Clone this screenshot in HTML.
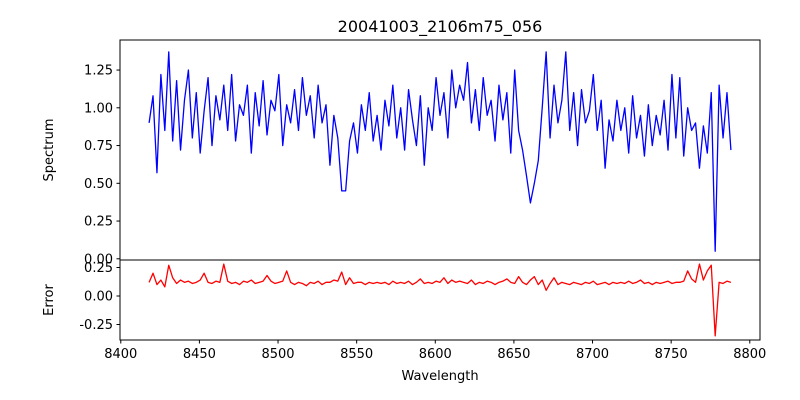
<!DOCTYPE html>
<html><head><meta charset="utf-8"><style>body{margin:0;background:#fff}svg{display:block;font-family:"DejaVu Sans","Liberation Sans",sans-serif}</style></head>
<body>
<svg id="chart" width="800" height="400" viewBox="0 0 800 400">
<rect width="800" height="400" fill="#fff"/>
<text x="440" y="32" font-size="16" text-anchor="middle">20041003_2106m75_056</text>
<text x="440" y="380" font-size="13" text-anchor="middle">Wavelength</text>
<text transform="translate(53,150) rotate(-90)" font-size="13" text-anchor="middle">Spectrum</text>
<text transform="translate(53,300) rotate(-90)" font-size="13" text-anchor="middle">Error</text>
<g id="g"></g>
</svg>
<script>
const wlStart = 8418, wlStep = 2.5;
const spectrum = [0.90,1.08,0.57,1.22,0.85,1.37,0.78,1.18,0.72,1.05,
1.25,0.80,1.10,0.70,0.98,1.20,0.75,1.08,0.92,1.15,
0.85,1.22,0.78,1.02,0.95,1.15,0.70,1.10,0.88,1.18,
0.82,1.05,0.98,1.22,0.75,1.02,0.90,1.12,0.85,1.20,
0.95,1.08,0.80,1.15,0.90,1.02,0.62,0.95,0.80,0.45,
0.45,0.78,0.90,0.70,1.02,0.85,1.10,0.78,0.95,0.72,
1.05,0.88,1.15,0.80,1.00,0.72,1.12,0.92,0.75,1.08,
0.62,1.00,0.85,1.20,0.95,1.10,0.80,1.25,1.00,1.15,
1.05,1.30,0.90,1.12,0.85,1.20,0.95,1.05,0.78,1.15,
0.92,1.10,0.70,1.25,0.85,0.72,0.55,0.37,0.50,0.65,
1.00,1.37,0.80,1.15,0.90,1.05,1.37,0.85,1.10,0.75,
1.12,0.90,0.98,1.22,0.85,1.05,0.60,0.92,0.78,1.05,
0.85,1.00,0.70,1.08,0.80,0.95,0.68,1.02,0.75,0.95,
0.82,1.05,0.72,1.22,0.80,1.20,0.68,1.00,0.85,0.90,
0.60,0.88,0.70,1.10,0.05,1.15,0.80,1.10,0.72];
const errors = [0.12,0.20,0.10,0.14,0.08,0.27,0.16,0.11,0.14,0.12,
0.13,0.11,0.12,0.14,0.20,0.12,0.11,0.13,0.12,0.28,
0.13,0.11,0.12,0.10,0.13,0.12,0.14,0.11,0.12,0.13,
0.18,0.13,0.11,0.12,0.13,0.22,0.12,0.10,0.12,0.11,
0.09,0.12,0.11,0.13,0.10,0.12,0.12,0.14,0.13,0.21,
0.10,0.16,0.11,0.12,0.12,0.10,0.12,0.11,0.12,0.11,
0.12,0.10,0.13,0.11,0.12,0.11,0.13,0.10,0.12,0.15,
0.11,0.12,0.11,0.13,0.12,0.16,0.11,0.14,0.12,0.13,
0.12,0.11,0.14,0.10,0.12,0.11,0.13,0.12,0.10,0.12,
0.13,0.15,0.12,0.11,0.17,0.12,0.10,0.14,0.17,0.10,
0.14,0.05,0.11,0.16,0.10,0.12,0.11,0.10,0.12,0.11,
0.10,0.12,0.11,0.13,0.10,0.11,0.12,0.10,0.12,0.11,
0.12,0.11,0.13,0.11,0.12,0.14,0.11,0.12,0.10,0.12,
0.11,0.12,0.13,0.11,0.12,0.12,0.13,0.22,0.15,0.12,
0.28,0.14,0.22,0.27,-0.35,0.12,0.11,0.13,0.12];
const xTicks = [8400,8450,8500,8550,8600,8650,8700,8750,8800];
const specTicks = [0.00,0.25,0.50,0.75,1.00,1.25];
const errTicks = [-0.25,0.00,0.25];

const NS="http://www.w3.org/2000/svg", g=document.getElementById('g');
const L=120,R=760;
const xs=w=>L+(w-8399.5)*(R-L)/407;
const ys=v=>258.8-v*151;
const ye=v=>296-v*114;
function mk(t,a,p){const e=document.createElementNS(NS,t);for(const k in a)e.setAttribute(k,a[k]);(p||g).appendChild(e);return e;}
function path(arr,fy,col,name){
  let d=arr.map((v,i)=>(i?'L':'M')+xs(wlStart+i*wlStep).toFixed(2)+','+fy(v).toFixed(2)).join('');
  const p=mk('path',{d:d,fill:'none',stroke:col,'stroke-width':1.3,'stroke-linejoin':'round'});
  
  
}
path(spectrum,ys,'#0000ff','spectrum-line');
path(errors,ye,'#ff0000','error-line');
const f1=mk('rect',{x:L,y:40,width:R-L,height:220,fill:'none',stroke:'#000','stroke-width':1});


const f2=mk('rect',{x:L,y:260,width:R-L,height:80,fill:'none',stroke:'#000','stroke-width':1});


xTicks.forEach(t=>{const x=xs(t);
  mk('line',{x1:x,x2:x,y1:340,y2:343.5,stroke:'#000'});
  const tx=mk('text',{x:x,y:358,'font-size':13,'text-anchor':'middle'});tx.textContent=t;
  
  
});
specTicks.forEach(t=>{const y=ys(t);
  mk('line',{x1:L-3.5,x2:L,y1:y,y2:y,stroke:'#000'});
  const tx=mk('text',{x:L-7,y:y+4.5,'font-size':13,'text-anchor':'end'});tx.textContent=t.toFixed(2);
  
  
});
errTicks.forEach(t=>{const y=ye(t);
  mk('line',{x1:L-3.5,x2:L,y1:y,y2:y,stroke:'#000'});
  const tx=mk('text',{x:L-7,y:y+4.5,'font-size':13,'text-anchor':'end'});tx.textContent=t.toFixed(2);
  
  
});
</script>
</body></html>
